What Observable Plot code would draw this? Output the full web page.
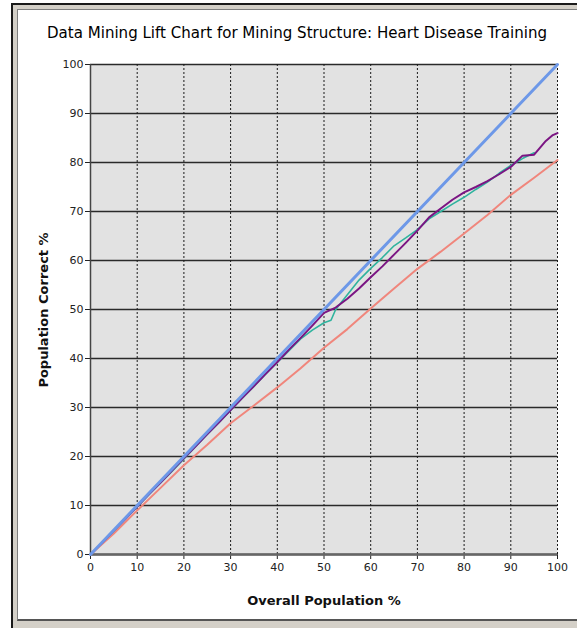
<!DOCTYPE html>
<html>
<head>
<meta charset="utf-8">
<script src="https://cdn.jsdelivr.net/npm/d3@7"></script>
<script src="https://cdn.jsdelivr.net/npm/@observablehq/plot@0.6"></script>
<style>
  html, body { margin: 0; padding: 0; background: #fff; }
  body { width: 577px; height: 630px; position: relative; overflow: hidden; font-family: "DejaVu Sans", sans-serif; }
  #outer { position: absolute; left: 11px; top: 3px; width: 566px; height: 625px; background: #d4d0c8; border-left: 2px solid #1a1a1a; border-top: 2px solid #1a1a1a; box-sizing: border-box; }
  #inner { position: absolute; left: 17px; top: 9px; width: 560px; height: 612px; background: #fff; border-left: 1px solid #808080; border-top: 1px solid #808080; border-bottom: 2px solid #555; box-sizing: border-box; }
  #title { position: absolute; left: 297px; top: 33px; width: 0; height: 0; }
  #title span { position: absolute; transform: translate(-50%, -50%); white-space: nowrap; font-family: "DejaVu Sans", sans-serif; font-size: 14px; color: #000; }
  #chart { position: absolute; left: 0; top: 50px; }
  #xlabel { position: absolute; left: 324px; top: 600px; width: 0; height: 0; }
  #xlabel span { position: absolute; transform: translate(-50%, -50%); white-space: nowrap; font-family: "DejaVu Sans", sans-serif; font-weight: bold; font-size: 13px; color: #111; }
  #ylabel { position: absolute; left: 43px; top: 310px; width: 0; height: 0; }
  #ylabel span { position: absolute; transform: translate(-50%, -50%) rotate(-90deg); white-space: nowrap; font-family: "DejaVu Sans", sans-serif; font-weight: bold; font-size: 13px; color: #111; }
</style>
</head>
<body>
<div id="outer"></div>
<div id="inner"></div>
<div id="title"><span>Data Mining Lift Chart for Mining Structure: Heart Disease Training</span></div>
<div id="chart"></div>
<div id="xlabel"><span>Overall Population %</span></div>
<div id="ylabel"><span>Population Correct %</span></div>
<script>
const ticks = [0, 10, 20, 30, 40, 50, 60, 70, 80, 90, 100];

const idealX = [0, 100];
const idealY = [0, 100];

const randomX = [0, 5, 10, 15, 20, 25, 30, 35, 40, 45, 50, 55, 60, 65, 70, 75, 80, 85, 90, 95, 100];
const randomY = [0, 4.3, 9.0, 13.6, 18.2, 22.4, 26.8, 30.4, 34.1, 38.0, 42.2, 46.0, 50.2, 54.3, 58.3, 61.8, 65.5, 69.3, 73.4, 76.9, 80.5];

const modelAX = [0, 2.5, 5, 7.5, 10, 12.5, 15, 17.5, 20, 22.5, 25, 27.5, 30, 32.5, 35, 37.5, 40, 42.5, 45, 47.5, 50, 52.5, 55, 57.5, 60, 62.5, 65, 67.5, 70, 72.5, 75, 77.5, 80, 82.5, 85, 87.5, 90, 92.5, 95, 97.5, 99, 100];
const modelAY = [0, 2.4, 4.9, 7.3, 9.8, 12.3, 14.7, 17.2, 19.7, 22.1, 24.6, 27.0, 29.5, 32.0, 34.4, 36.9, 39.3, 41.8, 44.2, 46.7, 49.3, 50.4, 52.2, 54.3, 56.6, 58.8, 61.2, 63.6, 66.1, 68.8, 70.6, 72.4, 73.9, 75.0, 76.2, 77.6, 79.1, 81.4, 81.6, 84.4, 85.6, 86.0];

const modelBX = [0, 2.5, 5, 7.5, 10, 12.5, 15, 17.5, 20, 22.5, 25, 27.5, 30, 32.5, 35, 37.5, 40, 42.5, 45, 47.5, 50, 51.5, 52.5, 55, 57.5, 60, 62.5, 65, 67.5, 70, 72.5, 75, 77.5, 80, 82.5, 85, 87.5, 90, 92.5, 95];
const modelBY = [0, 2.4, 4.8, 7.3, 9.7, 12.2, 14.6, 17.0, 19.5, 22.0, 24.5, 26.9, 29.4, 31.9, 34.3, 36.8, 39.2, 41.6, 44.0, 45.8, 47.3, 47.8, 50.0, 53.0, 56.0, 58.4, 60.6, 63.0, 64.6, 66.3, 68.5, 70.0, 71.5, 72.9, 74.5, 76.0, 77.8, 79.4, 80.8, 82.0];

const toRows = (xs, ys) => xs.map((x, i) => ({x, y: ys[i]}));

// fit the title to the width it takes in the reference
(function fitTitle() {
  const s = document.querySelector("#title span");
  const w = s.getBoundingClientRect().width;
  if (w > 0) s.style.fontSize = (14 * 500 / w).toFixed(2) + "px";
})();

const plot = Plot.plot({
  width: 577,
  height: 540,
  marginLeft: 90,
  marginRight: 20,
  marginTop: 14,
  marginBottom: 36,
  style: { fontFamily: "DejaVu Sans, sans-serif", fontSize: "11px", color: "#222", background: "transparent" },
  x: { domain: [0, 100], ticks: ticks, tickSize: 5, tickPadding: 4, label: null },
  y: { domain: [0, 100], ticks: ticks, tickSize: 5, tickPadding: 2, label: null },
  marks: [
    Plot.frame({ fill: "#e2e2e2", stroke: null }),
    Plot.ruleY(ticks, { stroke: "#2a2a2a", strokeWidth: 1.3 }),
    Plot.ruleX(ticks, { stroke: "#1a1a1a", strokeWidth: 1, strokeDasharray: "2,2" }),
    Plot.ruleX([0], { stroke: "#444", strokeWidth: 1.5 }),
    Plot.ruleY([0], { stroke: "#666", strokeWidth: 2.5 }),
    Plot.line(toRows(randomX, randomY), { x: "x", y: "y", stroke: "#f0867c", strokeWidth: 2 }),
    Plot.line(toRows(modelBX, modelBY), { x: "x", y: "y", stroke: "#2fb39e", strokeWidth: 1.6 }),
    Plot.line(toRows(modelAX, modelAY), { x: "x", y: "y", stroke: "#7b1583", strokeWidth: 2 }),
    Plot.line(toRows(idealX, idealY), { x: "x", y: "y", stroke: "#6d98e8", strokeWidth: 3 })
  ]
});
document.getElementById("chart").appendChild(plot);
</script>
</body>
</html>
